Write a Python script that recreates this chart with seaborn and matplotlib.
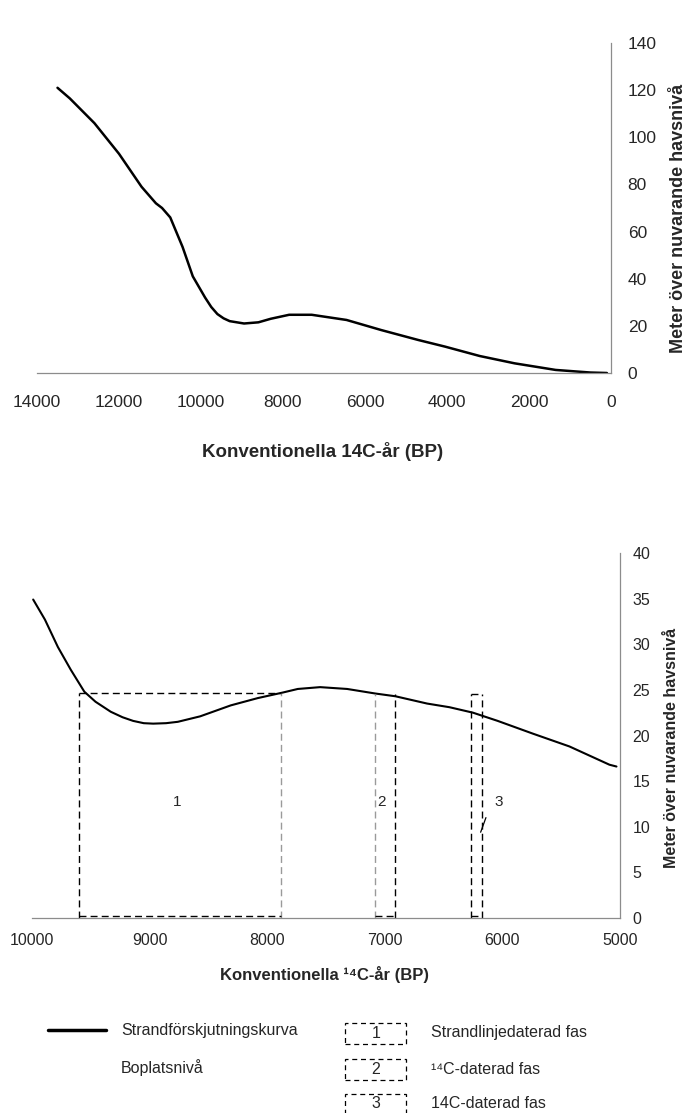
import matplotlib
matplotlib.use('Agg')
import matplotlib.pyplot as plt
import seaborn as sns
import pandas as pd
from matplotlib.lines import Line2D
from matplotlib.patches import Rectangle

# strandförskjutningskurva, hela perioden
top_years = [13500, 13200, 12600, 12000, 11450, 11100, 10950, 10750, 10450, 10200,
             9900, 9750, 9600, 9450, 9300, 8950, 8600, 8300, 7850, 7300, 6450, 5600,
             4700, 4050, 3200, 2350, 1350, 500, 100]
top_level = [121, 116.5, 106, 93, 79, 72, 70, 66, 53.5, 41,
             32, 28, 25, 23.2, 22, 21, 21.5, 23, 24.7, 24.7, 22.5, 18.2,
             14, 11.2, 7.2, 4.1, 1.3, 0.2, 0]
top_xticks = [14000, 12000, 10000, 8000, 6000, 4000, 2000, 0]
top_yticks = [0, 20, 40, 60, 80, 100, 120, 140]

# detalj 10000-5000 BP
bot_years = [9990, 9890, 9780, 9670, 9555, 9460, 9330, 9230, 9140, 9050, 8970, 8860, 8760,
             8570, 8310, 8080, 7870, 7740, 7550, 7320, 7080, 6910, 6640,
             6450, 6250, 6040, 5740, 5430, 5090, 5030]
bot_level = [34.9, 32.7, 29.7, 27.2, 24.8, 23.7, 22.6, 22.0, 21.6, 21.35, 21.3, 21.35, 21.5,
             22.1, 23.3, 24.1, 24.7, 25.1, 25.3, 25.1, 24.6, 24.3, 23.5,
             23.1, 22.5, 21.6, 20.2, 18.8, 16.8, 16.6]
bot_xticks = [10000, 9000, 8000, 7000, 6000, 5000]
bot_yticks = [0, 5, 10, 15, 20, 25, 30, 35, 40]

# daterade faser (boxar)
phase_labels = ['1', '2', '3']
phase_start = [9600, 7080, 6265]
phase_end = [7880, 6915, 6170]
phase_top = [24.7, 24.5, 24.5]
phase_label_x = [8765, 7025, 6030]
phase_label_y = [12.7, 12.7, 12.7]
phase_left_col = ['black', '#9a9a9a', 'black']
phase_right_col = ['#9a9a9a', 'black', 'black']
phase_has_top = [True, False, True]

ylabel = 'Meter över nuvarande havsnivå'
legend_left = ['Strandförskjutningskurva', 'Boplatsnivå']
legend_right = ['Strandlinjedaterad fas', '¹⁴C-daterad fas', '14C-daterad fas']

sns.set_style('white')
plt.rcParams['font.family'] = ['Liberation Sans', 'DejaVu Sans']

fig = plt.figure(figsize=(6.96, 11.13), dpi=100)
W, H = 696.0, 1113.0

axc = '#8c8c8c'


def style_axis(ax):
    ax.spines['left'].set_visible(False)
    ax.spines['top'].set_visible(False)
    ax.spines['right'].set_color(axc)
    ax.spines['bottom'].set_color(axc)
    ax.spines['right'].set_linewidth(0.9)
    ax.spines['bottom'].set_linewidth(0.9)
    ax.yaxis.tick_right()
    ax.yaxis.set_label_position('right')
    ax.set_facecolor('white')


# --- övre diagrammet ---
ax1 = fig.add_axes([37 / W, (H - 373) / H, 574 / W, 330 / H])
df1 = pd.DataFrame({'year': top_years, 'level': top_level})
sns.lineplot(data=df1, x='year', y='level', sort=False, color='black', lw=1.8, ax=ax1)
ax1.set_xlim(14000, 0)
ax1.set_ylim(0, 140)
ax1.set_xticks(top_xticks)
ax1.set_yticks(top_yticks)
style_axis(ax1)
ax1.tick_params(axis='y', length=0, pad=12, labelsize=12.5)
ax1.tick_params(axis='x', direction='in', length=3, color=axc, pad=16, labelsize=12.5)
ax1.set_xlabel('Konventionella 14C-år (BP)', fontsize=13.5, fontweight='bold', va='center')
ax1.xaxis.set_label_coords(0.498, -0.239)
ax1.set_ylabel(ylabel, fontsize=13, fontweight='bold', rotation=90, va='center', ha='center')
ax1.yaxis.set_label_coords(1.117, 0.467)

# --- nedre diagrammet ---
ax2 = fig.add_axes([32 / W, (H - 918) / H, 588 / W, 365 / H])
df2 = pd.DataFrame({'year': bot_years, 'level': bot_level})
sns.lineplot(data=df2, x='year', y='level', sort=False, color='black', lw=1.5, ax=ax2)
ax2.set_xlim(10000, 5000)
ax2.set_ylim(0, 40)
ax2.set_xticks(bot_xticks)
ax2.set_yticks(bot_yticks)
style_axis(ax2)
ax2.tick_params(axis='y', length=0, pad=9, labelsize=11.5)
ax2.tick_params(axis='x', direction='in', length=3, color=axc, pad=11, labelsize=11.5)
ax2.set_xlabel('Konventionella ¹⁴C-år (BP)', fontsize=12, fontweight='bold', va='center')
ax2.xaxis.set_label_coords(0.498, -0.156)
ax2.set_ylabel(ylabel, fontsize=11.5, fontweight='bold', rotation=90, va='center', ha='center')
ax2.yaxis.set_label_coords(1.088, 0.466)

dash = (5, 3)
for lab, x0, x1, top, lx, ly, cl, cr, has_top in zip(
        phase_labels, phase_start, phase_end, phase_top, phase_label_x, phase_label_y,
        phase_left_col, phase_right_col, phase_has_top):
    ax2.plot([x0, x0], [0, top], color=cl, lw=1.0, dashes=dash)
    ax2.plot([x1, x1], [0, top], color=cr, lw=1.0, dashes=dash)
    ax2.plot([x0, x1], [0.25, 0.25], color='black', lw=1.0, dashes=dash)
    if has_top:
        ax2.plot([x0, x1], [top, top], color='black', lw=1.0, dashes=dash)
    ax2.text(lx, ly, lab, fontsize=11, ha='center', va='center')

# pekare från "3" till boxen
ax2.plot([6185, 6140], [9.4, 11.0], color='black', lw=0.9)

# --- teckenförklaring ---
def fy(py):
    return 1 - py / H

fig.add_artist(Line2D([48 / W, 106 / W], [fy(1030), fy(1030)], color='black', lw=2.5))
for txt, py in zip(legend_left, [1031, 1068]):
    fig.text(121 / W, fy(py), txt, fontsize=11.5, ha='left', va='center')

for lab, txt, py in zip(phase_labels, legend_right, [1033, 1069, 1104]):
    fig.add_artist(Rectangle((345 / W, fy(py + 10.5)), 61 / W, 21 / H, fill=False,
                             edgecolor='black', lw=0.9, ls=(0, (4, 3))))
    fig.text(376 / W, fy(py), lab, fontsize=11.5, ha='center', va='center')
    fig.text(431 / W, fy(py), txt, fontsize=11.5, ha='left', va='center')

fig.savefig('out.png', dpi=100, facecolor='white')
